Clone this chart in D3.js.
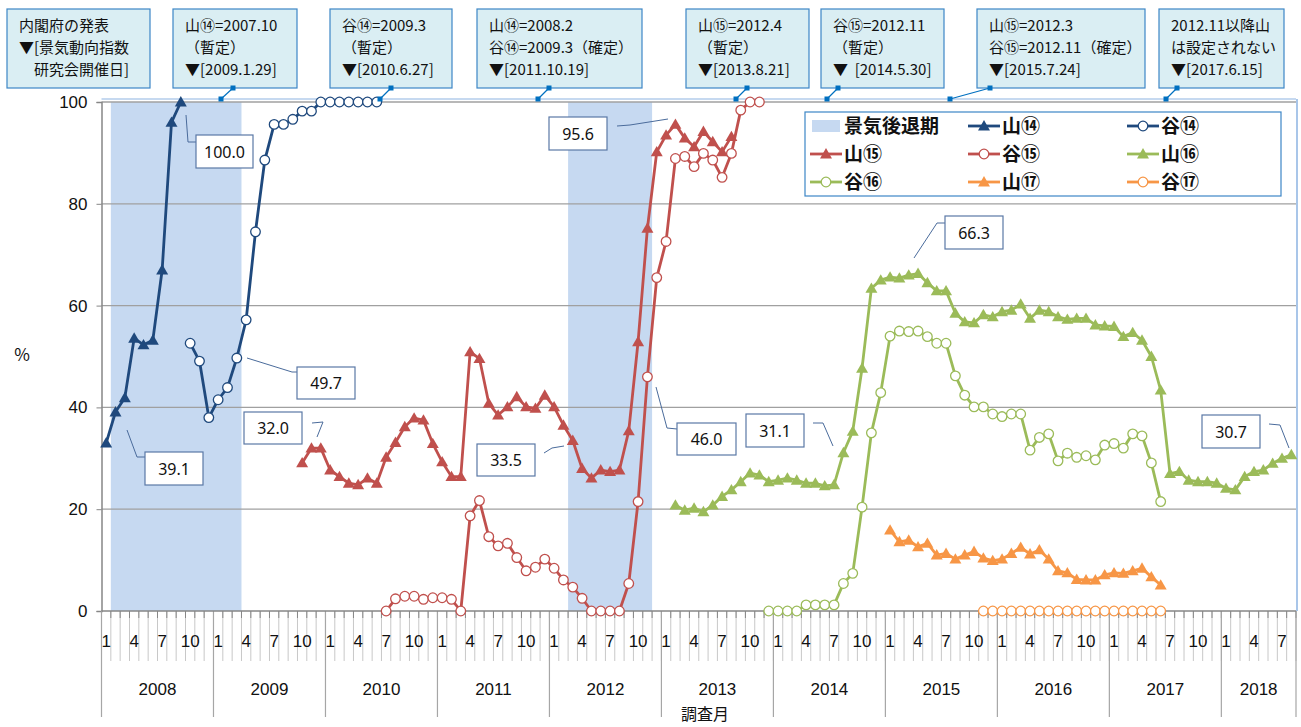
<!DOCTYPE html>
<html><head><meta charset="utf-8">
<script src="https://cdn.jsdelivr.net/npm/d3@7"></script>
<style>
body{margin:0;background:#fff;}
svg{display:block;}
text{font-family:"Noto Sans CJK JP","Noto Sans",sans-serif;}
</style></head><body>
<svg id="c" width="1301" height="727"></svg>
<script>
// ---------- DATA ----------
const years = ["2008","2009","2010","2011","2012","2013","2014","2015","2016","2017","2018"];
const monthsInYear = [12,12,12,12,12,12,12,12,12,12,8];
const monthTickLabels = [1,4,7,10];
const yTicks = [0,20,40,60,80,100];
const recessions = [["2008-02","2009-03"],["2012-03","2012-11"]];

const yama14Start = "2008-01";
const yama14 = [33.0,39.1,41.9,53.6,52.3,53.2,67.0,96.0,100.0];
const tani14Start = "2008-10";
const tani14 = [52.6,49.1,38.0,41.5,43.9,49.7,57.2,74.5,88.6,95.6,95.6,96.6,98.2,98.2,100,100,100,100,100,100,100];
const yama15Start = "2009-10";
const yama15 = [29.1,32.0,32.0,27.7,26.4,25.1,24.8,26.1,25.1,30.2,33.1,36.2,37.9,37.5,32.9,29.3,26.4,26.4,
  50.9,49.6,40.8,38.5,40.1,42.1,40.1,39.8,42.4,40.1,36.5,33.5,28.0,26.1,27.7,27.4,27.7,35.4,52.9,75.2,90.2,
  93.5,95.6,92.9,91.2,94.2,92.2,90.2,93.2];
const tani15Start = "2010-07";
const tani15 = [0,2.4,2.9,2.9,2.3,2.6,2.6,2.3,0,18.7,21.7,14.6,12.8,13.3,10.5,7.9,8.6,10.2,8.4,6.1,4.7,2.5,
  0,0,0,0,5.4,21.5,46.0,65.5,72.6,88.9,89.3,87.3,89.9,88.6,85.2,89.9,98.4,100,100];
const yama16Start = "2013-02";
const yama16 = [20.8,19.8,20.2,19.5,20.8,22.5,23.8,25.4,27.1,26.7,25.4,25.7,26.1,25.7,25.1,25.1,24.6,24.8,
  31.1,35.3,47.7,63.4,65.0,65.6,65.4,66.0,66.3,64.5,62.9,62.9,58.5,56.8,56.6,58.2,57.8,58.8,59.1,60.3,57.5,
  59.1,58.8,57.8,57.3,57.5,57.5,56.2,56.0,55.9,53.9,54.7,53.2,50.0,43.4,27.0,27.4,25.7,25.4,25.4,25.1,24.1,
  23.8,26.4,27.4,27.7,29.0,30.0,30.7];
const tani16Start = "2013-12";
const tani16 = [0,0,0,0,1.2,1.2,1.2,1.2,5.4,7.4,20.4,35.0,42.9,54.0,55.0,54.9,55.0,53.9,52.6,52.6,46.2,42.4,
  40.1,40.1,38.7,38.2,38.7,38.7,31.6,34.1,34.8,29.5,31.0,30.2,30.5,29.7,32.6,32.9,32.0,34.8,34.4,29.1,21.5];
const yama17Start = "2015-01";
const yama17 = [15.9,13.6,13.9,12.6,13.3,11.0,11.3,10.2,11.0,11.7,10.4,9.9,10.2,11.3,12.5,11.2,12.0,10.2,
  7.9,7.5,6.2,6.1,6.1,7.1,7.5,7.4,7.9,8.4,6.7,5.1];
const tani17Start = "2015-11";
const tani17 = [0,0,0,0,0,0,0,0,0,0,0,0,0,0,0,0,0,0,0,0];

const seriesNames = ["山⑭","谷⑭","山⑮","谷⑮","山⑯","谷⑯","山⑰","谷⑰"];
const recessionName = "景気後退期";

const announcements = [
  {lines:["内閣府の発表","▼[景気動向指数","　研究会開催日]"]},
  {lines:["山⑭=2007.10","（暫定）","▼[2009.1.29]"]},
  {lines:["谷⑭=2009.3","（暫定）","▼[2010.6.27]"]},
  {lines:["山⑭=2008.2","谷⑭=2009.3（確定）","▼[2011.10.19]"]},
  {lines:["山⑮=2012.4","（暫定）","▼[2013.8.21]"]},
  {lines:["谷⑮=2012.11","（暫定）","▼  [2014.5.30]"]},
  {lines:["山⑮=2012.3","谷⑮=2012.11（確定）","▼[2015.7.24]"]},
  {lines:["2012.11以降山","は設定されない","▼[2017.6.15]"]}
];
// layout of announcement boxes (pixels): x, width, connector top x, connector bottom x
const annLayout = [
  [7,143,null,null],[173,124,233,221],[330,122,391,380],[477,165,549,538],
  [686,123,747,736],[821,123,838,827],[977,168,990,950],[1159,125,1177,1166]
];
// data-label callouts: box & leader layout
const callouts = [
  {text:"100.0", box:[196,135,57,33], leader:[[186,115],[188,142],[196,142]]},
  {text:"39.1",  box:[145,452,58,33], leader:[[127,430],[137,457],[145,457]]},
  {text:"49.7",  box:[297,367,58,32], leader:[[247,358],[292,372],[297,372]]},
  {text:"32.0",  box:[244,412,58,32], leader:[[312,423],[323,422],[317,437]]},
  {text:"33.5",  box:[477,444,58,32], leader:[[544,453],[552,448],[564,446]]},
  {text:"95.6",  box:[549,117,58,33], leader:[[617,126],[630,125],[668,119]]},
  {text:"46.0",  box:[677,423,59,32], leader:[[656,387],[667,428],[677,429]]},
  {text:"31.1",  box:[746,414,58,33], leader:[[813,423],[823,423],[833,446]]},
  {text:"66.3",  box:[945,216,58,33], leader:[[945,223],[937,223],[914,258]]},
  {text:"30.7",  box:[1202,415,58,33], leader:[[1269,424],[1280,425],[1289,448]]}
];

// ---------- STYLE ----------
const colors = ["#1F497D","#1F497D","#C0504D","#C0504D","#9BBB59","#9BBB59","#F79646","#F79646"];
const markers = ["tri","circ","tri","circ","tri","circ","tri","circ"];
const recessionColor = "#C6D9F1";

// ---------- SCALES ----------
const svg = d3.select("#c");
const nMonths = d3.sum(monthsInYear);
const pLeft = 101.5, pRight = 1296, pTop = 102, pBottom = 611;
const x = d3.scaleBand().domain(d3.range(nMonths)).range([pLeft, pRight]).padding(0);
const bw = x.bandwidth();
const xc = i => x(i) + bw/2;
const y = d3.scaleLinear().domain([0,100]).range([pBottom, pTop]);
const mIdx = s => { const [a,b] = s.split("-").map(Number); return (a-2008)*12 + b - 1; };

const seriesData = [
  [yama14Start,yama14],[tani14Start,tani14],[yama15Start,yama15],[tani15Start,tani15],
  [yama16Start,yama16],[tani16Start,tani16],[yama17Start,yama17],[tani17Start,tani17]
].map(([st,vals],k)=>({name:seriesNames[k], color:colors[k], marker:markers[k],
  pts: vals.map((v,j)=>({i:mIdx(st)+j, v}))}));

// ---------- RECESSIONS ----------
svg.append("g").selectAll("rect").data(recessions).join("rect")
  .attr("x", d=>x(mIdx(d[0]))).attr("width", d=>x(mIdx(d[1]))+bw - x(mIdx(d[0])))
  .attr("y", y(100)).attr("height", y(0)-y(100)).attr("fill", recessionColor);

// ---------- GRID ----------
svg.append("line").attr("x1",pLeft).attr("x2",pRight).attr("y1",99).attr("y2",99)
  .attr("stroke","#8DB3E2").attr("stroke-width",1.2);
svg.append("line").attr("x1",pRight+1).attr("x2",pRight+1).attr("y1",99).attr("y2",pBottom)
  .attr("stroke","#8DB3E2").attr("stroke-width",1.5);
svg.append("g").selectAll("line").data(yTicks.filter(t=>t>0)).join("line")
  .attr("x1",pLeft).attr("x2",pRight).attr("y1",d=>y(d)).attr("y2",d=>y(d))
  .attr("stroke","#A0A0A0").attr("stroke-width",1.3);

// y axis
const yAxis = svg.append("g").attr("transform",`translate(${pLeft},0)`)
  .call(d3.axisLeft(y).tickValues(yTicks).tickSize(5).tickPadding(9).tickFormat(d3.format("d")));
yAxis.select(".domain").attr("stroke","#868686").attr("stroke-width",1.5);
yAxis.selectAll(".tick line").attr("stroke","#868686");
yAxis.selectAll(".tick text").attr("font-size",17).attr("fill","#111")
  .style("font-family","'Liberation Sans','Noto Sans',sans-serif");
svg.append("text").attr("x",22).attr("y",361).attr("text-anchor","middle")
  .attr("font-size",17).attr("fill","#111").text("%");

// x axis (multi-level)
const gx = svg.append("g");
gx.selectAll("line.mb").data(d3.range(nMonths+1)).join("line").attr("class","mb")
  .attr("x1",k=>pLeft+k*bw).attr("x2",k=>pLeft+k*bw).attr("y1",pBottom).attr("y2",661)
  .attr("stroke","#C8C8C8").attr("stroke-width",1);
gx.selectAll("line.mt").data(d3.range(nMonths+1)).join("line").attr("class","mt")
  .attr("x1",k=>pLeft+k*bw).attr("x2",k=>pLeft+k*bw).attr("y1",pBottom).attr("y2",pBottom+7)
  .attr("stroke","#868686").attr("stroke-width",1);
const yearStarts = monthsInYear.map((m,k)=>d3.sum(monthsInYear.slice(0,k)));
gx.selectAll("line.yb").data(yearStarts.concat([nMonths])).join("line").attr("class","yb")
  .attr("x1",k=>pLeft+k*bw).attr("x2",k=>pLeft+k*bw).attr("y1",pBottom).attr("y2",717)
  .attr("stroke","#A6A6A6").attr("stroke-width",1.2);
gx.append("line").attr("x1",pLeft).attr("x2",pRight).attr("y1",pBottom).attr("y2",pBottom)
  .attr("stroke","#868686").attr("stroke-width",1.5);
const monthLabelData = [];
years.forEach((yr,k)=>{ monthTickLabels.forEach(m=>{ if(m<=monthsInYear[k]) monthLabelData.push({i:yearStarts[k]+m-1, t:String(m)}); }); });
gx.selectAll("text.ml").data(monthLabelData).join("text").attr("class","ml")
  .attr("x",d=>xc(d.i)).attr("y",647).attr("text-anchor","middle")
  .attr("font-size",17).attr("fill","#111").style("font-family","'Liberation Sans','Noto Sans',sans-serif")
  .text(d=>d.t);
gx.selectAll("text.yl").data(years).join("text").attr("class","yl")
  .attr("x",(d,k)=>pLeft + (yearStarts[k] + monthsInYear[k]/2)*bw).attr("y",695).attr("text-anchor","middle")
  .attr("font-size",17).attr("fill","#111").style("font-family","'Liberation Sans','Noto Sans',sans-serif")
  .text(d=>d);
svg.append("text").attr("x",705).attr("y",720).attr("text-anchor","middle")
  .attr("font-size",16).attr("fill","#111").text("調査月");

// ---------- SERIES ----------
const tri = d3.symbol().type(d3.symbolTriangle).size(62);
const line = d3.line().x(d=>xc(d.i)).y(d=>y(d.v));
const gs = svg.append("g");
seriesData.forEach(s=>{
  const g = gs.append("g");
  g.append("path").attr("d", line(s.pts)).attr("fill","none").attr("stroke",s.color)
    .attr("stroke-width",2.8).attr("stroke-linejoin","round");
  if (s.marker==="tri") {
    g.selectAll("path.m").data(s.pts).join("path").attr("class","m")
      .attr("d",tri).attr("transform",d=>`translate(${xc(d.i)},${y(d.v)+1})`).attr("fill",s.color);
  } else {
    g.selectAll("circle").data(s.pts).join("circle")
      .attr("cx",d=>xc(d.i)).attr("cy",d=>y(d.v)).attr("r",4.8)
      .attr("fill","#fff").attr("stroke",s.color).attr("stroke-width",1.3);
  }
});

// ---------- CALLOUTS ----------
const gc = svg.append("g");
callouts.forEach(c=>{
  gc.append("polyline").attr("points",c.leader.map(p=>p.join(",")).join(" "))
    .attr("fill","none").attr("stroke","#4A6B9B").attr("stroke-width",1);
  const [bx,by,bwid,bh] = c.box;
  gc.append("rect").attr("x",bx).attr("y",by).attr("width",bwid).attr("height",bh)
    .attr("fill","#fff").attr("stroke","#5A78A6").attr("stroke-width",1.2);
  gc.append("text").attr("x",bx+bwid/2).attr("y",by+bh/2+6).attr("text-anchor","middle")
    .attr("font-size",16).attr("fill","#111").style("font-family","'Noto Sans',sans-serif").text(c.text);
});

// ---------- ANNOUNCEMENTS ----------
const ga = svg.append("g");
announcements.forEach((a,k)=>{
  const [ax,aw,ct,cb] = annLayout[k];
  ga.append("rect").attr("x",ax).attr("y",9).attr("width",aw).attr("height",79)
    .attr("fill","#DAEEF3").attr("stroke","#3C86C6").attr("stroke-width",1.2);
  a.lines.forEach((t,j)=>{
    ga.append("text").attr("x",ax+12).attr("y",31+j*22).attr("font-size",15).attr("fill","#111")
      .style("white-space","pre").text(t);
  });
  if (ct!==null) {
    ga.append("line").attr("x1",ct).attr("y1",88).attr("x2",cb).attr("y2",99)
      .attr("stroke","#0070C0").attr("stroke-width",1.2);
    ga.append("rect").attr("x",ct-2.5).attr("y",85.5).attr("width",5).attr("height",5).attr("fill","#0070C0");
    ga.append("rect").attr("x",cb-2.5).attr("y",96.5).attr("width",5).attr("height",5).attr("fill","#0070C0");
  }
});

// ---------- LEGEND ----------
const lg = svg.append("g");
lg.append("rect").attr("x",805).attr("y",112).attr("width",476).attr("height",84)
  .attr("fill","#fff").attr("stroke","#3C86C6").attr("stroke-width",1.2);
const legendItems = [{name:recessionName, type:"rect"}].concat(seriesData.map(s=>({name:s.name, type:s.marker, color:s.color})));
const colX = [810, 968, 1127], rowY = [126, 154, 182];
legendItems.forEach((it,k)=>{
  const cx0 = colX[k%3], cy0 = rowY[Math.floor(k/3)];
  if (it.type==="rect") {
    lg.append("rect").attr("x",cx0+2).attr("y",cy0-6).attr("width",28).attr("height",12).attr("fill",recessionColor);
  } else {
    lg.append("line").attr("x1",cx0).attr("x2",cx0+32).attr("y1",cy0).attr("y2",cy0)
      .attr("stroke",it.color).attr("stroke-width",2.8);
    if (it.type==="tri") lg.append("path").attr("d",tri).attr("transform",`translate(${cx0+16},${cy0+1})`).attr("fill",it.color);
    else lg.append("circle").attr("cx",cx0+16).attr("cy",cy0).attr("r",4.8).attr("fill","#fff").attr("stroke",it.color).attr("stroke-width",1.3);
  }
  lg.append("text").attr("x",cx0+34).attr("y",cy0+7).attr("font-size",19).attr("font-weight","bold")
    .attr("fill","#111").text(it.name);
});
</script>
</body></html>
